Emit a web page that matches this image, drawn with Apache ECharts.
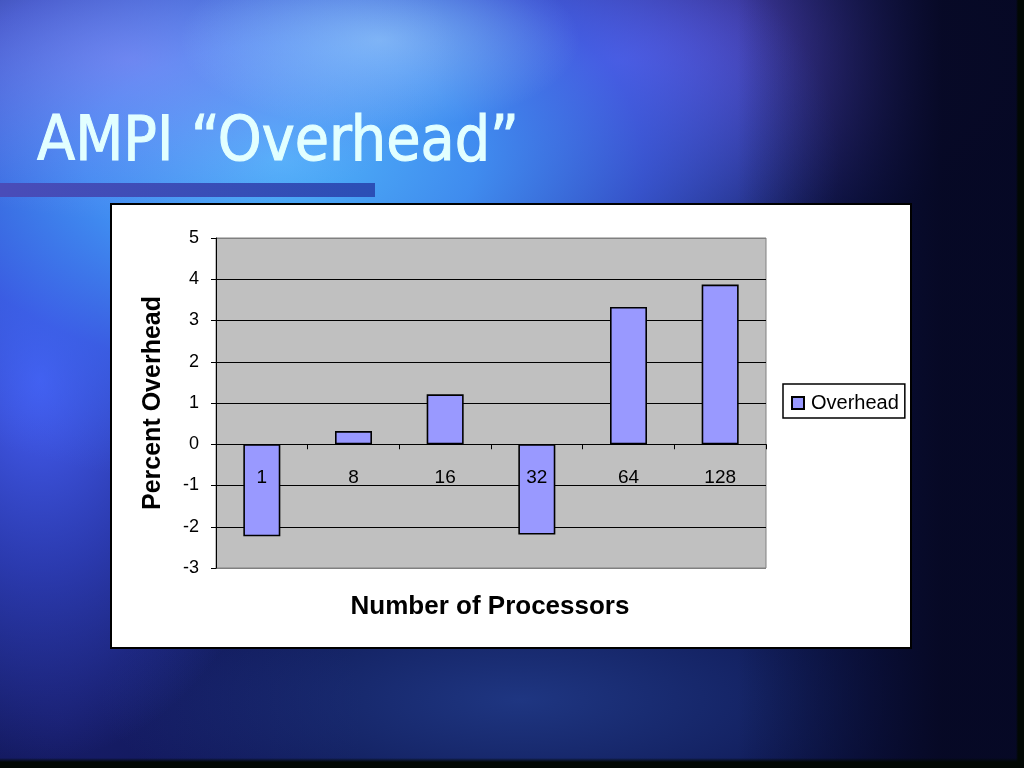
<!DOCTYPE html>
<html>
<head>
<meta charset="utf-8">
<script src="https://cdn.jsdelivr.net/npm/echarts@6/dist/echarts.min.js"></script>
<style>
html,body{margin:0;padding:0;width:1024px;height:768px;overflow:hidden;}
body{
  background-color:#0d1650;
  background-image:
    linear-gradient(to right, rgba(0,0,0,0) 0%, rgba(0,0,0,0) 1016px, rgba(2,8,4,1) 1018px),
    linear-gradient(to bottom, rgba(0,0,0,0) 0%, rgba(0,0,0,0) 758px, rgba(2,8,4,1) 762px),
    linear-gradient(to right, rgba(6,8,35,0) 0%, rgba(6,8,35,0) 72%, rgba(6,8,35,0.95) 92%),
    radial-gradient(ellipse 200px 90px at 380px 40px, rgba(170,220,255,0.55), rgba(170,220,255,0)),
    radial-gradient(ellipse 330px 160px at 130px 60px, rgba(150,140,250,0.55), rgba(150,140,250,0)),
    radial-gradient(ellipse 560px 330px at 280px 160px, rgba(80,180,250,1) 0%, rgba(65,145,245,0.95) 35%, rgba(60,100,235,0.7) 65%, rgba(40,60,200,0) 100%),
    radial-gradient(ellipse 420px 200px at 620px 60px, rgba(110,90,235,0.85), rgba(90,70,220,0)),
    radial-gradient(ellipse 260px 380px at 40px 380px, rgba(70,95,245,1), rgba(60,80,230,0.6) 50%, rgba(40,60,200,0) 100%),
    radial-gradient(ellipse 420px 140px at 520px 700px, rgba(45,80,170,0.55), rgba(40,70,160,0)),
    radial-gradient(ellipse 300px 300px at 60px 720px, rgba(25,30,110,0.8), rgba(20,25,90,0));
}
#chart{position:absolute;left:0;top:0;width:1024px;height:768px;}
</style>
</head>
<body>
<div id="chart"></div>
<script>
// ---- data ----
const categories = ['1', '8', '16', '32', '64', '128'];
const overhead = [-2.23, 0.32, 1.21, -2.19, 3.33, 3.87];
const seriesName = 'Overhead';
const yMin = -3, yMax = 5, yStep = 1;
const titleText = 'AMPI \u201cOverhead\u201d';
const xTitle = 'Number of Processors';
const yTitle = 'Percent Overhead';

const chart = echarts.init(document.getElementById('chart'), null, {renderer: 'canvas'});
const FONT = 'Liberation Sans, Arial, sans-serif';

const gridTop = 238, gridHeight = 330;
// move the category axis up to the zero line of the value axis
const zeroOffset = -gridHeight * (0 - yMin) / (yMax - yMin);

const splitColors = [];
for (let v = yMin; v <= yMax; v += yStep) {
  splitColors.push((v === yMin || v === yMax) ? '#808080' : '#000000');
}

chart.setOption({
  backgroundColor: 'transparent',
  animation: false,
  graphic: [
    { type: 'rect', z: -10, shape: {x: 0, y: 183, width: 375, height: 14},
      style: {fill: new echarts.graphic.LinearGradient(0, 0, 1, 0, [
        {offset: 0, color: '#4a4cb8'}, {offset: 1, color: '#2b4fb6'}])} },
    { type: 'rect', z: -10, shape: {x: 111, y: 204, width: 800, height: 444},
      style: {fill: '#ffffff', stroke: '#000000', lineWidth: 2} },
    { type: 'text', z: 10, x: 37, y: 175,
      style: {text: titleText, fill: '#e2ffff', stroke: '#e2ffff', lineWidth: 1,
        font: '62px "DejaVu Sans Condensed", "DejaVu Sans", sans-serif',
        textAlign: 'left', textVerticalAlign: 'bottom', verticalAlign: 'bottom',
        shadowColor: 'rgba(10,15,60,0.95)', shadowOffsetX: 3, shadowOffsetY: 3, shadowBlur: 1} },
    { type: 'text', z: 10, x: 490, y: 607,
      style: {text: xTitle, fill: '#000', font: 'bold 26px ' + FONT,
        textAlign: 'center', textVerticalAlign: 'middle', verticalAlign: 'middle'} }
  ],
  legend: {
    left: 783, top: 384,
    orient: 'vertical',
    backgroundColor: '#ffffff',
    borderColor: '#000000', borderWidth: 1.5, borderRadius: 0,
    padding: [9, 6, 5, 8],
    itemWidth: 12, itemHeight: 12, itemGap: 0,
    icon: 'rect',
    textStyle: {fontFamily: FONT, fontSize: 20, color: '#000', padding: [0, 0, 0, 2], lineHeight: 20},
    data: [seriesName]
  },
  grid: {
    left: 216, top: gridTop, width: 550, height: gridHeight,
    show: true, backgroundColor: '#c0c0c0', borderColor: '#808080', borderWidth: 1
  },
  xAxis: {
    type: 'category', data: categories, z: 10,
    offset: zeroOffset,
    axisLine: {onZero: false, lineStyle: {color: '#000', width: 1}},
    axisTick: {show: true, alignWithLabel: false, length: 5, lineStyle: {color: '#000'}},
    axisLabel: {fontFamily: FONT, fontSize: 19, color: '#000', margin: 24},
    splitLine: {show: false}
  },
  yAxis: {
    type: 'value', min: yMin, max: yMax, interval: yStep,
    name: yTitle, nameLocation: 'middle', nameGap: 50, nameRotate: 90,
    nameTextStyle: {fontFamily: FONT, fontSize: 25, fontWeight: 'bold', color: '#000'},
    axisLine: {show: true, lineStyle: {color: '#000', width: 1}},
    axisTick: {show: true, length: 5, lineStyle: {color: '#000'}},
    axisLabel: {fontFamily: FONT, fontSize: 18, color: '#000', margin: 17},
    splitLine: {show: true, lineStyle: {color: splitColors, width: 1}}
  },
  series: [{
    name: seriesName, type: 'bar', data: overhead, barWidth: 37,
    itemStyle: {color: '#9999ff', borderColor: '#000', borderWidth: 1.6}
  }]
});
</script>
</body>
</html>
